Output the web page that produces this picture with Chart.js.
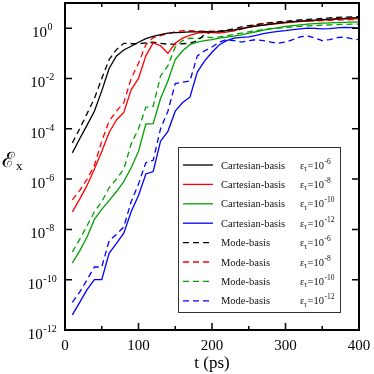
<!DOCTYPE html>
<html>
<head>
<meta charset="utf-8">
<script src="https://cdn.jsdelivr.net/npm/chart.js@4"></script>
<style>
html, body { margin: 0; padding: 0; background: #fff; }
#wrap { width: 374px; height: 374px; }
</style>
</head>
<body>
<div id="wrap"><canvas id="chart" width="374" height="374"></canvas></div>
<script>
// ===== DATA =====
const times = [10, 20, 30, 40, 50, 60, 70, 80, 90, 100, 110, 120, 130, 140, 150, 160, 170, 180, 190, 200,
               210, 220, 230, 240, 250, 260, 270, 280, 290, 300, 310, 320, 330, 340, 350, 360, 370, 380, 390, 400];

const cartesian6 = [1.1e-5, 4.0e-5, 1.4e-4, 5.0e-4, 3.2e-3, 2.5e-2, 7.9e-2, 0.135, 0.19, 0.275,
                    0.38, 0.47, 0.55, 0.63, 0.66, 0.68, 0.71, 0.71, 0.72, 0.71,
                    0.72, 0.79, 0.85, 0.95, 1.07, 1.2, 1.32, 1.45, 1.58, 1.7,
                    1.82, 1.9, 2.0, 2.09, 2.19, 2.29, 2.4, 2.45, 2.57, 2.63];
const cartesian8 = [5.0e-8, 1.6e-7, 5.6e-7, 2.5e-6, 1.26e-5, 7.1e-5, 2.24e-4, 4.5e-4, 3.55e-3, 1.0e-2,
                    7.9e-2, 0.26, 0.2, 0.1, 0.25, 0.4, 0.52, 0.63, 0.68, 0.66,
                    0.63, 0.69, 0.79, 0.95, 1.1, 1.23, 1.32, 1.41, 1.51, 1.62,
                    1.74, 1.82, 1.9, 2.0, 2.09, 2.14, 2.24, 2.29, 2.34, 2.4];
const cartesian10 = [4.7e-10, 1.4e-9, 5.0e-9, 2.5e-8, 6.3e-8, 1.4e-7, 3.2e-7, 7.9e-7, 2.8e-6, 1.26e-5,
                     1.55e-4, 1.6e-4, 1.6e-3, 7.9e-3, 5.6e-2, 0.126, 0.22, 0.28, 0.32, 0.35,
                     0.4, 0.44, 0.48, 0.54, 0.63, 0.72, 0.83, 0.93, 1.05, 1.17,
                     1.26, 1.35, 1.45, 1.51, 1.58, 1.62, 1.66, 1.7, 1.74, 1.78];
const cartesian12 = [4.0e-12, 1.26e-11, 4.0e-11, 1.0e-10, 1.0e-10, 1.12e-9, 2.8e-9, 7.1e-9, 5.0e-8, 2.24e-7,
                     1.6e-6, 2.0e-6, 3.2e-5, 7.9e-5, 5.0e-4, 1.1e-3, 1.8e-3, 1.8e-2, 5.0e-2, 0.11,
                     0.22, 0.32, 0.4, 0.43, 0.45, 0.52, 0.6, 0.68, 0.74, 0.79,
                     0.87, 0.93, 1.0, 0.98, 0.93, 0.95, 1.02, 1.07, 1.05, 1.0];
const mode6 = [2.75e-5, 1.0e-4, 4.0e-4, 1.6e-3, 1.0e-2, 5.6e-2, 0.14, 0.25, 0.24, 0.24,
               0.26, 0.275, 0.25, 0.23, 0.23, 0.24, 0.25, 0.32, 0.56, 0.71,
               0.76, 0.83, 0.95, 1.12, 1.26, 1.38, 1.51, 1.66, 1.78, 1.9,
               2.0, 2.14, 2.24, 2.34, 2.45, 2.57, 2.69, 2.75, 2.82, 2.88];
const mode8 = [1.5e-7, 3.5e-7, 1.0e-6, 3.5e-6, 3.2e-5, 2.0e-4, 5.0e-4, 1.1e-3, 1.0e-2, 4.0e-2,
               0.22, 0.42, 0.5, 0.6, 0.71, 0.79, 0.79, 0.76, 0.76, 0.76,
               0.76, 0.76, 0.79, 0.91, 1.1, 1.41, 1.55, 1.62, 1.7, 1.74,
               1.82, 1.86, 1.9, 1.95, 2.0, 2.04, 2.09, 2.14, 2.19, 2.24];
const mode10 = [1.26e-9, 4.0e-9, 1.4e-8, 5.0e-8, 1.26e-7, 4.5e-7, 1.0e-6, 2.5e-6, 2.5e-5, 1.0e-4,
                7.1e-4, 7.9e-4, 1.26e-2, 3.2e-2, 0.178, 0.32, 0.4, 0.38, 0.45, 0.42,
                0.45, 0.5, 0.56, 0.63, 0.71, 0.79, 0.89, 0.95, 1.0, 1.05,
                1.12, 1.17, 1.23, 1.26, 1.32, 1.35, 1.38, 1.41, 1.45, 1.45];
const mode12 = [1.26e-11, 3.2e-11, 1.0e-10, 3.2e-10, 3.2e-10, 3.5e-9, 6.3e-9, 1.26e-8, 1.26e-7, 6.3e-7,
                4.5e-6, 5.6e-6, 1.0e-4, 5.0e-4, 6.3e-3, 7.1e-3, 7.9e-3, 7.9e-2, 0.126, 0.178,
                0.28, 0.35, 0.32, 0.28, 0.32, 0.35, 0.32, 0.28, 0.25, 0.28,
                0.35, 0.45, 0.5, 0.4, 0.32, 0.35, 0.42, 0.44, 0.38, 0.35];

const xTicks = [0, 100, 200, 300, 400];
const xMinorTicks = [50, 150, 250, 350];
const yTickExps = [0, -2, -4, -6, -8, -10, -12];
const legendNames = ['Cartesian-basis', 'Cartesian-basis', 'Cartesian-basis', 'Cartesian-basis',
                     'Mode-basis', 'Mode-basis', 'Mode-basis', 'Mode-basis'];
const legendExps = ['-6', '-8', '-10', '-12', '-6', '-8', '-10', '-12'];

const colors = ['#000000', '#ff0000', '#00a000', '#0000ff'];

// ===== CHART =====
function series(values) {
    return values.map((v, i) => ({ x: times[i], y: v }));
}

const allSeries = [cartesian6, cartesian8, cartesian10, cartesian12, mode6, mode8, mode10, mode12];
const datasets = allSeries.map((vals, i) => ({
    label: legendNames[i] + ' ' + legendExps[i],
    data: series(vals),
    borderColor: colors[i % 4],
    borderWidth: 1.3,
    borderDash: i >= 4 ? [6, 4] : [],
    pointRadius: 0,
    tension: 0,
    fill: false,
}));

const SERIF = '"Liberation Serif", "DejaVu Serif", serif';

const decorPlugin = {
    id: 'decor',
    afterDatasetsDraw(chart) {
        const ctx = chart.ctx;
        const area = chart.chartArea;
        const xs = chart.scales.x;
        const ys = chart.scales.y;
        ctx.save();

        // frame
        ctx.strokeStyle = '#000';
        ctx.lineWidth = 2;
        ctx.strokeRect(area.left, area.top, area.right - area.left, area.bottom - area.top);

        // x ticks (inward, top and bottom)
        ctx.lineWidth = 1.5;
        ctx.beginPath();
        xTicks.forEach(t => {
            const x = xs.getPixelForValue(t);
            ctx.moveTo(x, area.bottom); ctx.lineTo(x, area.bottom - 7);
            ctx.moveTo(x, area.top); ctx.lineTo(x, area.top + 7);
        });
        xMinorTicks.forEach(t => {
            const x = xs.getPixelForValue(t);
            ctx.moveTo(x, area.bottom); ctx.lineTo(x, area.bottom - 4);
            ctx.moveTo(x, area.top); ctx.lineTo(x, area.top + 4);
        });
        yTickExps.forEach(e => {
            const y = ys.getPixelForValue(Math.pow(10, e));
            ctx.moveTo(area.left, y); ctx.lineTo(area.left + 7, y);
            ctx.moveTo(area.right, y); ctx.lineTo(area.right - 7, y);
        });
        ctx.stroke();

        // x tick labels
        ctx.fillStyle = '#000';
        ctx.font = '15px ' + SERIF;
        ctx.textAlign = 'center';
        ctx.textBaseline = 'alphabetic';
        xTicks.forEach(t => {
            ctx.fillText(String(t), xs.getPixelForValue(t), 350);
        });

        // y tick labels 10^n
        ctx.textAlign = 'left';
        yTickExps.forEach(e => {
            const y = ys.getPixelForValue(Math.pow(10, e));
            const sup = String(e);
            ctx.font = '15px ' + SERIF;
            const w1 = ctx.measureText('10').width;
            ctx.font = '10px ' + SERIF;
            const w2 = ctx.measureText(sup).width;
            const x0 = 42 - (w1 + w2) / 2;
            ctx.font = '15px ' + SERIF;
            ctx.fillText('10', x0, y + 9);
            ctx.font = '10px ' + SERIF;
            ctx.fillText(sup, x0 + w1 + 0.5, y + 2);
        });

        // axis titles
        ctx.font = '17px ' + SERIF;
        ctx.textAlign = 'center';
        ctx.fillText('t (ps)', (area.left + area.right) / 2, 368);
        ctx.textAlign = 'left';
        ctx.font = '21px ' + SERIF;
        ctx.fillText('\u2130', 2, 167);
        const we = ctx.measureText('\u2130').width;
        ctx.font = '13px ' + SERIF;
        ctx.fillText('x', 2 + we + 1, 170);

        // legend
        const bx = 178, by = 147, bw = 162, bh = 165;
        ctx.fillStyle = '#fff';
        ctx.fillRect(bx, by, bw, bh);
        ctx.strokeStyle = '#333';
        ctx.lineWidth = 1;
        ctx.strokeRect(bx + 0.5, by + 0.5, bw, bh);
        for (let i = 0; i < 8; i++) {
            const ry = 165 + i * 19.4;
            ctx.strokeStyle = colors[i % 4];
            ctx.lineWidth = 1.3;
            ctx.setLineDash(i >= 4 ? [6, 4] : []);
            ctx.beginPath();
            ctx.moveTo(183, ry); ctx.lineTo(213, ry);
            ctx.stroke();
            ctx.setLineDash([]);
            ctx.fillStyle = '#111';
            ctx.font = '10.5px ' + SERIF;
            ctx.fillText(legendNames[i], 221, ry + 3.5);
            ctx.fillText('\u03b5', 300, ry + 3.5);
            ctx.font = '7.5px ' + SERIF;
            ctx.fillText('\u03c4', 304, ry + 6);
            ctx.font = '10.5px ' + SERIF;
            ctx.fillText('=10', 307.5, ry + 3.5);
            const w = ctx.measureText('=10').width;
            ctx.font = '7.5px ' + SERIF;
            ctx.fillText(legendExps[i], 307.5 + w + 0.5, ry - 1.5);
        }
        ctx.restore();
    }
};

new Chart(document.getElementById('chart').getContext('2d'), {
    type: 'line',
    data: { datasets: datasets },
    options: {
        responsive: false,
        animation: false,
        layout: { padding: { left: 65, right: 15, top: 3, bottom: 44 } },
        plugins: {
            legend: { display: false },
            tooltip: { enabled: false }
        },
        scales: {
            x: { type: 'linear', min: 0, max: 400, display: false },
            y: { type: 'logarithmic', min: 1e-12, max: 10, display: false }
        }
    },
    plugins: [decorPlugin]
});
</script>
</body>
</html>
